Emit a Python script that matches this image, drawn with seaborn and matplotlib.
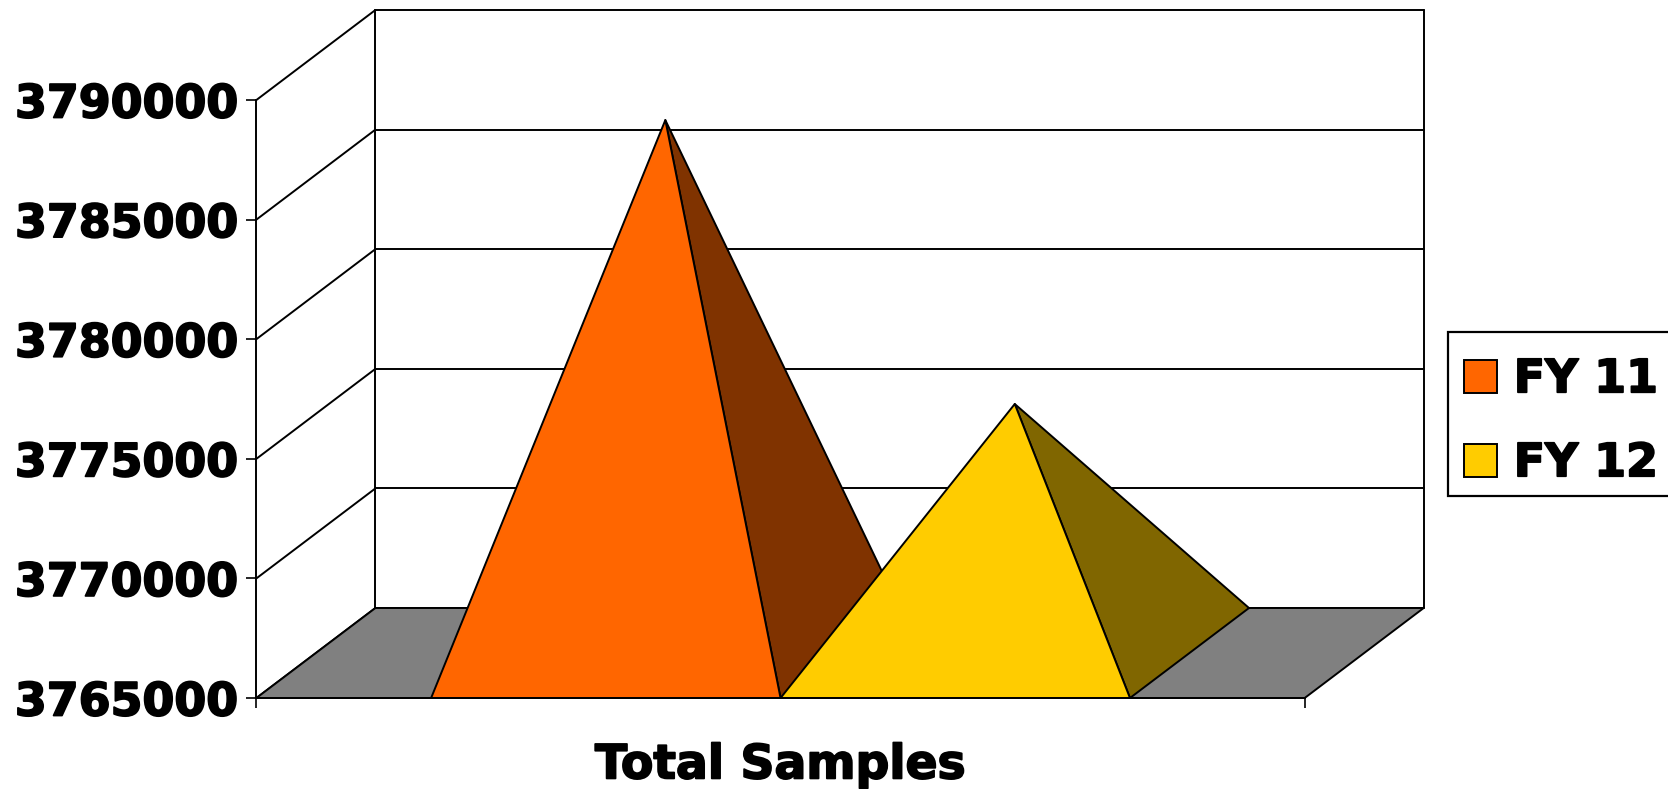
import pandas as pd
import numpy as np
import matplotlib
matplotlib.use("Agg")
import matplotlib.pyplot as plt
import matplotlib.patheffects as pe
from matplotlib.patches import Patch, Rectangle
import seaborn as sns

# values
series = ["FY 11", "FY 12"]
values = [3787280, 3775410]
front_colors = ["#FF6600", "#FFCC00"]
side_colors = ["#803300", "#806600"]
y_ticks = [3765000, 3770000, 3775000, 3780000, 3785000, 3790000]
category = "Total Samples"

W, H = 1668, 789
sns.set_theme(style="white")
plt.rcParams["font.family"] = ["DejaVu Sans"]
plt.rcParams["font.weight"] = "bold"
# the original font is heavier than DejaVu bold
heavy = [pe.withStroke(linewidth=1.3, foreground="black")]

fig = plt.figure(figsize=(W / 100, H / 100), dpi=100)
# front plane of the fake 3d box
ax = fig.add_axes([256.4 / W, 1 - 698 / H, 1048.3 / W, 598 / H])
ax.set_xlim(0, 3)
ax.set_ylim(y_ticks[0], y_ticks[-1])

# depth of the box in data units
dx = 119 / 1048.3 * 3
dy = 90 / 598 * (y_ticks[-1] - y_ticks[0])
base = y_ticks[0]
xmax = 3

# walls: one segment per row pair
segs = []
def add_seg(x0, y0, x1, y1):
    n = len(segs) // 2
    segs.append((n, x0, y0))
    segs.append((n, x1, y1))

for t in y_ticks:
    add_seg(0, t, dx, t + dy)
    add_seg(dx, t + dy, dx + xmax, t + dy)
add_seg(dx, base + dy, dx, y_ticks[-1] + dy)
add_seg(dx + xmax, base + dy, dx + xmax, y_ticks[-1] + dy)
wall = pd.DataFrame(segs, columns=["seg", "x", "y"])
sns.lineplot(data=wall, x="x", y="y", units="seg", estimator=None, sort=False,
             color="black", linewidth=1.4, ax=ax, clip_on=False, zorder=1, legend=False)

# floor
ax.fill([0, xmax, xmax + dx, dx], [base, base, base + dy, base + dy],
        facecolor="#808080", edgecolor="black", linewidth=1.4, clip_on=False, zorder=2)

# pyramids
for i, v in enumerate(values):
    x0 = 0.5 + i
    x1 = x0 + 1
    ax_ = x0 + 0.5 + dx / 2
    ay_ = v + dy / 2
    ax.fill([x1, x1 + dx, ax_], [base, base + dy, ay_], facecolor=side_colors[i],
            edgecolor="black", linewidth=1.4, joinstyle="round", clip_on=False, zorder=3 + 2 * i)
    ax.fill([x0, x1, ax_], [base, base, ay_], facecolor=front_colors[i],
            edgecolor="black", linewidth=1.4, joinstyle="round", clip_on=False, zorder=4 + 2 * i)

# axes
sns.despine(ax=ax, top=True, right=True)
for s in ["left", "bottom"]:
    ax.spines[s].set_linewidth(1.4)
    ax.spines[s].set_color("black")
    ax.spines[s].set_zorder(10)
ax.set_yticks(y_ticks)
ax.set_yticklabels([str(t) for t in y_ticks], fontsize=33, fontweight="bold", color="black",
                   path_effects=heavy)
ax.set_xticks([0, 3])
ax.set_xticklabels(["", ""])
ax.tick_params(axis="both", which="major", direction="out", length=7.2, width=1.2, color="black",
               left=True, bottom=True, pad=5.5)
ax.set_xlabel(category, fontsize=34, fontweight="bold", color="black", labelpad=20,
              path_effects=heavy)
ax.set_ylabel("")

# legend box runs off the right edge like the original
fig.add_artist(Rectangle((1448 / W, 1 - 496 / H), 300 / W, 164 / H, transform=fig.transFigure,
                         facecolor="white", edgecolor="black", linewidth=1.6, zorder=1))
handles = [Patch(facecolor=c, edgecolor="black", linewidth=1.4) for c in front_colors]
leg = fig.legend(handles, series, loc="upper left", bbox_to_anchor=(1445 / W, 1 - 338 / H),
                 borderaxespad=0, fontsize=33, frameon=False, labelcolor="black",
                 handlelength=0.72, handleheight=0.72, handletextpad=0.36,
                 labelspacing=0.85, borderpad=0.42)
for t in leg.get_texts():
    t.set_path_effects(heavy)

fig.savefig("out.png", dpi=100, facecolor="white")
